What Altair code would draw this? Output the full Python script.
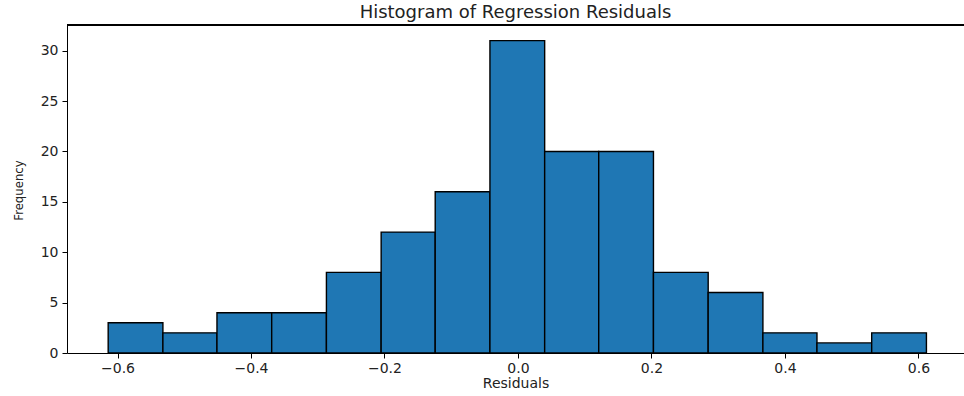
import altair as alt
import pandas as pd

bin_start = [-0.614, -0.532, -0.451, -0.369, -0.287, -0.205, -0.124, -0.042,
             0.040, 0.121, 0.203, 0.285, 0.367, 0.448, 0.530]
bin_end = [-0.532, -0.451, -0.369, -0.287, -0.205, -0.124, -0.042, 0.040,
           0.121, 0.203, 0.285, 0.367, 0.448, 0.530, 0.612]
counts = [3, 2, 4, 4, 8, 12, 16, 31, 20, 20, 8, 6, 2, 1, 2]

x_ticks = [-0.6, -0.4, -0.2, 0.0, 0.2, 0.4, 0.6]
y_ticks = [0, 5, 10, 15, 20, 25, 30]

df = pd.DataFrame({"start": bin_start, "end": bin_end, "count": counts})

W, H = 897, 328

bars = alt.Chart(df).mark_rect(
    color="#1f77b4", stroke="black", strokeWidth=1.4
).encode(
    x=alt.X("start:Q",
            scale=alt.Scale(domain=[-0.6757, 0.6683], nice=False, zero=False),
            axis=alt.Axis(values=x_ticks, format=".1f", title="Residuals",
                          grid=False, labelFont="DejaVu Sans", labelFontSize=14,
                          labelColor="#222", labelPadding=3,
                          tickSize=5, tickColor="black", domainColor="black",
                          titleFont="DejaVu Sans", titleFontSize=14,
                          titleFontWeight="normal", titleColor="#222",
                          titleY=30, titleBaseline="middle")),
    x2="end:Q",
    y=alt.Y("count:Q",
            scale=alt.Scale(domain=[0, 32.55], nice=False),
            axis=alt.Axis(values=y_ticks, title="Frequency", grid=False,
                          labelFont="DejaVu Sans", labelFontSize=14,
                          labelColor="#222", labelPadding=4,
                          tickSize=5, tickColor="black", domainColor="black",
                          titleFont="DejaVu Sans Condensed", titleFontSize=13,
                          titleFontWeight="normal", titleColor="#222",
                          titleAngle=270, titleX=-49, titleY=165,
                          titleBaseline="middle", titleAlign="center")),
    y2=alt.datum(0),
)

top = alt.Chart(df).mark_rule(color="black", strokeWidth=1).encode(
    x=alt.value(0), x2=alt.value(W), y=alt.value(0)
)

chart = alt.layer(bars, top).properties(
    width=W, height=H,
    title=alt.Title("Histogram of Regression Residuals", font="DejaVu Sans",
                    fontSize=18, fontWeight="normal", color="#222",
                    anchor="middle", offset=3),
    padding={"left": 67, "top": 25, "right": 0, "bottom": 43},
    autosize=alt.AutoSizeParams(type="none"),
    background="white",
).configure_view(stroke=None)

chart.save("out.html", embed_options={"renderer": "svg", "actions": False})
